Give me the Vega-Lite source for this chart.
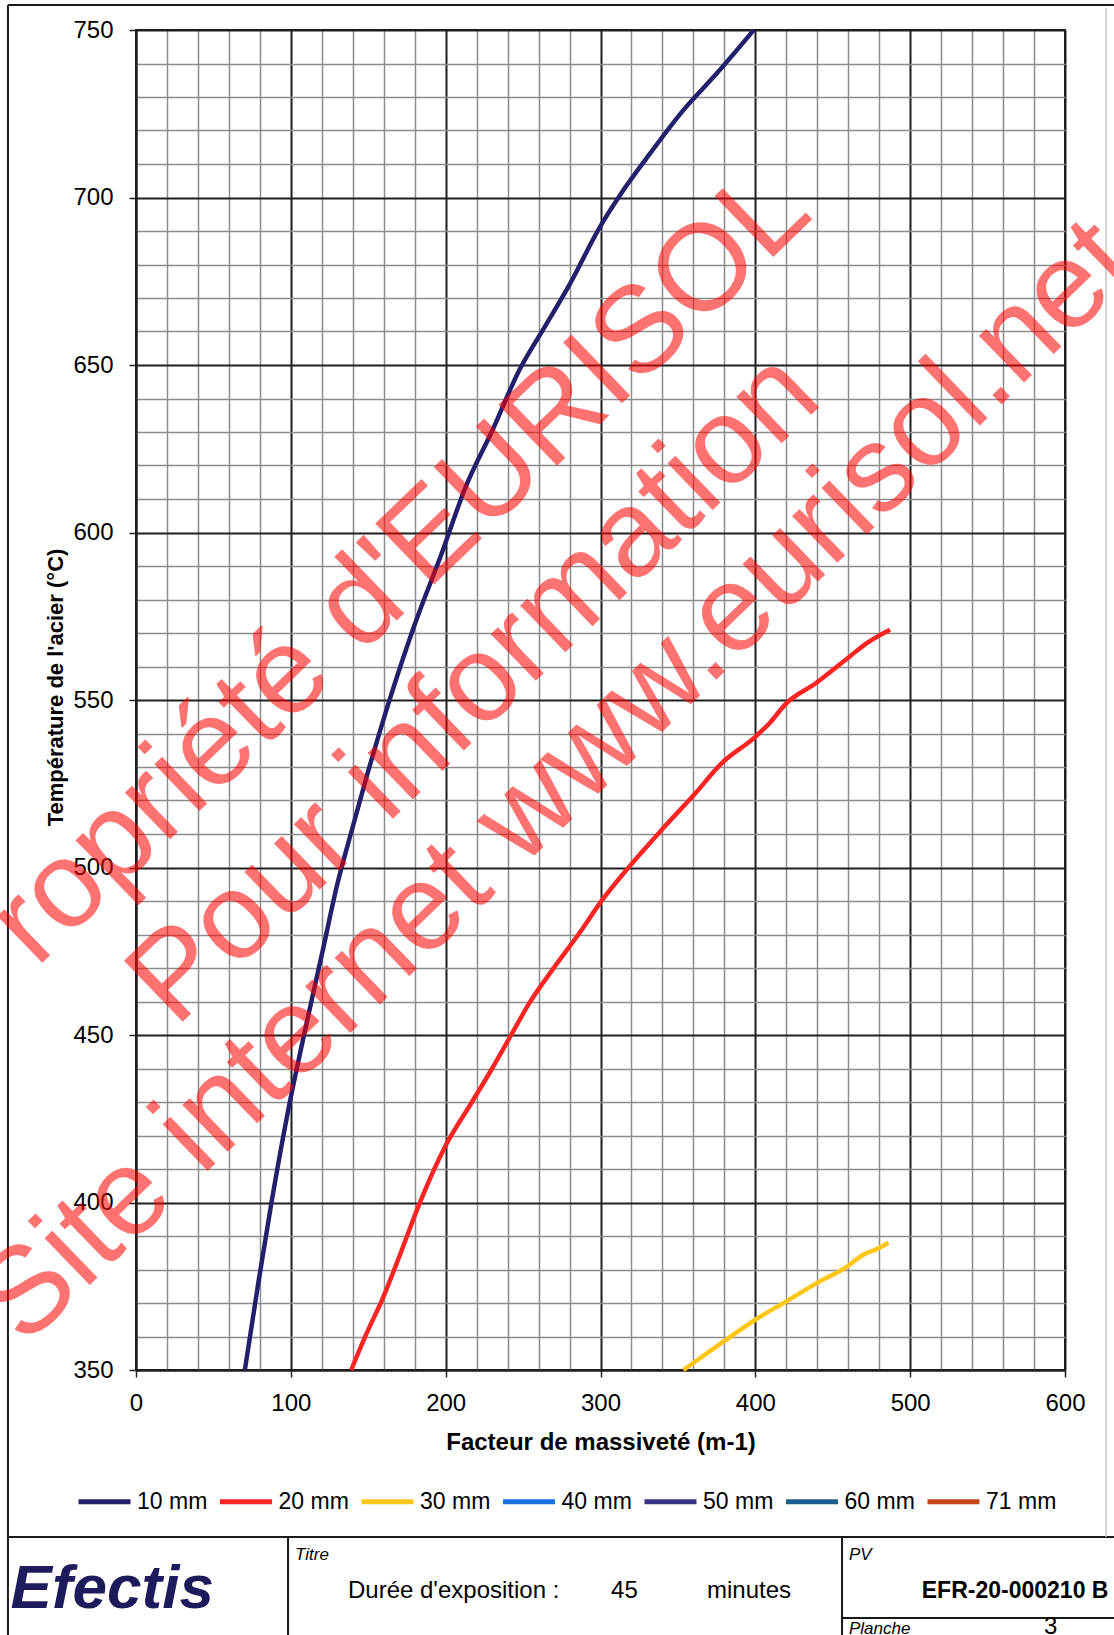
{
  "$schema": "https://vega.github.io/schema/vega-lite/v6.json",
  "width": 929,
  "height": 1340,
  "autosize": "none",
  "padding": {"left": 136, "top": 30, "right": 49, "bottom": 265},
  "background": "#ffffff",
  "config": {
    "font": "Liberation Sans",
    "view": {"stroke": "#1a1a1a", "strokeWidth": 2}
  },
  "datasets": {
    "curves": [
      {"epaisseur": "10 mm", "massivete": 70.3, "temperature": 350},
      {"epaisseur": "10 mm", "massivete": 79, "temperature": 376},
      {"epaisseur": "10 mm", "massivete": 87.5, "temperature": 400},
      {"epaisseur": "10 mm", "massivete": 98.3, "temperature": 427.5},
      {"epaisseur": "10 mm", "massivete": 108.5, "temperature": 450},
      {"epaisseur": "10 mm", "massivete": 120.5, "temperature": 475},
      {"epaisseur": "10 mm", "massivete": 130, "temperature": 495},
      {"epaisseur": "10 mm", "massivete": 138.7, "temperature": 510},
      {"epaisseur": "10 mm", "massivete": 149.5, "temperature": 528},
      {"epaisseur": "10 mm", "massivete": 162.4, "temperature": 548},
      {"epaisseur": "10 mm", "massivete": 179.6, "temperature": 572},
      {"epaisseur": "10 mm", "massivete": 196.8, "temperature": 593},
      {"epaisseur": "10 mm", "massivete": 213, "temperature": 613.7},
      {"epaisseur": "10 mm", "massivete": 230.3, "temperature": 630.6},
      {"epaisseur": "10 mm", "massivete": 247.6, "temperature": 648.5},
      {"epaisseur": "10 mm", "massivete": 262.7, "temperature": 660.4},
      {"epaisseur": "10 mm", "massivete": 280, "temperature": 674},
      {"epaisseur": "10 mm", "massivete": 299.4, "temperature": 691},
      {"epaisseur": "10 mm", "massivete": 314.5, "temperature": 702},
      {"epaisseur": "10 mm", "massivete": 331.8, "temperature": 713},
      {"epaisseur": "10 mm", "massivete": 353.4, "temperature": 726},
      {"epaisseur": "10 mm", "massivete": 375, "temperature": 737},
      {"epaisseur": "10 mm", "massivete": 399, "temperature": 750},
      {"epaisseur": "20 mm", "massivete": 139, "temperature": 350},
      {"epaisseur": "20 mm", "massivete": 149, "temperature": 361},
      {"epaisseur": "20 mm", "massivete": 159, "temperature": 371},
      {"epaisseur": "20 mm", "massivete": 171, "temperature": 385},
      {"epaisseur": "20 mm", "massivete": 182.5, "temperature": 399},
      {"epaisseur": "20 mm", "massivete": 200, "temperature": 417},
      {"epaisseur": "20 mm", "massivete": 217, "temperature": 430},
      {"epaisseur": "20 mm", "massivete": 230, "temperature": 440},
      {"epaisseur": "20 mm", "massivete": 243.5, "temperature": 451},
      {"epaisseur": "20 mm", "massivete": 254, "temperature": 459.5},
      {"epaisseur": "20 mm", "massivete": 269, "temperature": 469.5},
      {"epaisseur": "20 mm", "massivete": 286.5, "temperature": 480.5},
      {"epaisseur": "20 mm", "massivete": 299.5, "temperature": 489.3},
      {"epaisseur": "20 mm", "massivete": 319, "temperature": 500.5},
      {"epaisseur": "20 mm", "massivete": 341, "temperature": 512},
      {"epaisseur": "20 mm", "massivete": 361, "temperature": 522},
      {"epaisseur": "20 mm", "massivete": 378, "temperature": 531},
      {"epaisseur": "20 mm", "massivete": 400, "temperature": 539},
      {"epaisseur": "20 mm", "massivete": 409, "temperature": 543},
      {"epaisseur": "20 mm", "massivete": 420, "temperature": 549},
      {"epaisseur": "20 mm", "massivete": 439, "temperature": 555},
      {"epaisseur": "20 mm", "massivete": 461, "temperature": 563},
      {"epaisseur": "20 mm", "massivete": 472, "temperature": 567},
      {"epaisseur": "20 mm", "massivete": 487, "temperature": 571},
      {"epaisseur": "30 mm", "massivete": 353.5, "temperature": 350},
      {"epaisseur": "30 mm", "massivete": 378, "temperature": 358},
      {"epaisseur": "30 mm", "massivete": 400, "temperature": 365},
      {"epaisseur": "30 mm", "massivete": 420, "temperature": 370.5},
      {"epaisseur": "30 mm", "massivete": 440, "temperature": 376},
      {"epaisseur": "30 mm", "massivete": 458, "temperature": 380.5},
      {"epaisseur": "30 mm", "massivete": 470, "temperature": 384.5},
      {"epaisseur": "30 mm", "massivete": 478, "temperature": 386},
      {"epaisseur": "30 mm", "massivete": 486, "temperature": 388}
    ],
    "frame": [
      {"massivete": -82.7, "temperature": 757.5, "massivete2": -82.7, "temperature2": 269.4},
      {"massivete": -82.7, "temperature": 757.5, "massivete2": 631.7, "temperature2": 757.5},
      {"massivete": -82.7, "temperature": 300.15, "massivete2": 631.7, "temperature2": 300.15},
      {"massivete": 98.2, "temperature": 300.15, "massivete2": 98.2, "temperature2": 269.4},
      {"massivete": 456.0, "temperature": 300.15, "massivete2": 456.0, "temperature2": 269.4},
      {"massivete": 456.0, "temperature": 276.0, "massivete2": 631.7, "temperature2": 276.0}
    ],
    "edge": [
      {"massivete": 626.5, "temperature": 756.5, "massivete2": 626.5, "temperature2": 300.15}
    ],
    "blocktext": [
      {"role": "small", "label": "Titre", "massivete": 102.7, "temperature": 293.3},
      {"role": "small", "label": "PV", "massivete": 460.5, "temperature": 293.3},
      {"role": "small", "label": "Planche", "massivete": 460.5, "temperature": 271.2},
      {"role": "body", "label": "Durée d'exposition :", "massivete": 136.9, "temperature": 281.9},
      {"role": "body", "label": "45", "massivete": 306.8, "temperature": 281.9},
      {"role": "body", "label": "minutes", "massivete": 368.8, "temperature": 281.9},
      {"role": "body", "label": "3", "massivete": 586.4, "temperature": 271.2},
      {"role": "bold", "label": "EFR-20-000210 B", "massivete": 507.5, "temperature": 281.9},
      {"role": "logo", "label": "Efectis", "massivete": -81, "temperature": 279}
    ],
    "watermark": [
      {"label": "ropriété d'EURISOL", "massivete": 170.5, "temperature": 590},
      {"label": "Pour information", "massivete": 218.6, "temperature": 553.4},
      {"label": "Site internet www.eurisol.net", "massivete": 272, "temperature": 525.5}
    ]
  },
  "encoding": {
    "x": {
      "field": "massivete",
      "type": "quantitative",
      "scale": {"domain": [0, 600], "nice": false, "zero": false},
      "axis": {
        "values": [0, 20, 40, 60, 80, 100, 120, 140, 160, 180, 200, 220, 240, 260, 280, 300, 320, 340, 360, 380, 400, 420, 440, 460, 480, 500, 520, 540, 560, 580, 600],
        "grid": true,
        "gridColor": {"condition": {"test": "datum.value % 100 === 0", "value": "#1e1e1e"}, "value": "#8c8c8c"},
        "gridWidth": {"condition": {"test": "datum.value % 100 === 0", "value": 2}, "value": 1.5},
        "tickSize": 7,
        "tickWidth": 1.5,
        "tickColor": "#1e1e1e",
        "tickOpacity": {"condition": {"test": "datum.value % 100 === 0", "value": 1}, "value": 0},
        "labelExpr": "datum.value % 100 === 0 ? datum.label : ''",
        "labelFontSize": 24,
        "labelColor": "#000000",
        "labelPadding": 14,
        "labelFlush": false,
        "labelOverlap": false,
        "domainColor": "#1e1e1e",
        "domainWidth": 2,
        "title": "Facteur de massiveté  (m-1)",
        "titleFontSize": 24,
        "titleFontWeight": "bold",
        "titleColor": "#000000",
        "titlePadding": 15
      }
    },
    "y": {
      "field": "temperature",
      "type": "quantitative",
      "scale": {"domain": [350, 750], "nice": false, "zero": false},
      "axis": {
        "values": [350, 360, 370, 380, 390, 400, 410, 420, 430, 440, 450, 460, 470, 480, 490, 500, 510, 520, 530, 540, 550, 560, 570, 580, 590, 600, 610, 620, 630, 640, 650, 660, 670, 680, 690, 700, 710, 720, 730, 740, 750],
        "grid": true,
        "gridColor": {"condition": {"test": "datum.value % 50 === 0", "value": "#1e1e1e"}, "value": "#8c8c8c"},
        "gridWidth": {"condition": {"test": "datum.value % 50 === 0", "value": 2}, "value": 1.5},
        "tickSize": 7,
        "tickWidth": 1.5,
        "tickColor": "#1e1e1e",
        "tickOpacity": {"condition": {"test": "datum.value % 50 === 0", "value": 1}, "value": 0},
        "labelExpr": "datum.value % 50 === 0 ? datum.label : ''",
        "labelFontSize": 24,
        "labelColor": "#000000",
        "labelPadding": 16,
        "labelFlush": false,
        "labelOverlap": false,
        "domainColor": "#1e1e1e",
        "domainWidth": 2,
        "title": "Température de l'acier (°C)",
        "titleFontSize": 22,
        "titleFontWeight": "bold",
        "titleColor": "#000000",
        "titlePadding": 5,
        "titleY": 657
      }
    }
  },
  "layer": [
    {
      "data": {"name": "curves"},
      "mark": {"type": "line", "strokeWidth": 4.5, "interpolate": "monotone"},
      "encoding": {
        "color": {
          "field": "epaisseur",
          "type": "nominal",
          "scale": {
            "domain": ["10 mm", "20 mm", "30 mm", "40 mm", "50 mm", "60 mm", "71 mm"],
            "range": ["#241f6b", "#ff2424", "#ffc61a", "#1a73e0", "#3a3185", "#1c5c8a", "#c4461c"]
          },
          "legend": {
            "orient": "none",
            "legendX": -60,
            "legendY": 1443,
            "direction": "horizontal",
            "columns": 7,
            "title": null,
            "symbolType": "stroke",
            "symbolSize": 2704,
            "symbolStrokeWidth": 5,
            "symbolOpacity": 1,
            "labelFontSize": 23,
            "labelColor": "#000000",
            "labelOffset": 4,
            "columnPadding": 1.5,
            "padding": 0
          }
        }
      }
    },
    {
      "data": {"name": "frame"},
      "mark": {"type": "rule", "color": "#1a1a1a", "strokeWidth": 2, "clip": false},
      "encoding": {
        "x2": {"field": "massivete2"},
        "y2": {"field": "temperature2"}
      }
    },
    {
      "data": {"name": "edge"},
      "mark": {"type": "rule", "color": "#c4c4c4", "strokeWidth": 1.5, "clip": false},
      "encoding": {
        "x2": {"field": "massivete2"},
        "y2": {"field": "temperature2"}
      }
    },
    {
      "data": {"name": "blocktext"},
      "transform": [{"filter": "datum.role === 'small'"}],
      "mark": {"type": "text", "align": "left", "baseline": "alphabetic", "fontSize": 17, "fontStyle": "italic", "color": "#000000", "clip": false},
      "encoding": {"text": {"field": "label"}}
    },
    {
      "data": {"name": "blocktext"},
      "transform": [{"filter": "datum.role === 'body'"}],
      "mark": {"type": "text", "align": "left", "baseline": "alphabetic", "fontSize": 24, "color": "#000000", "clip": false},
      "encoding": {"text": {"field": "label"}}
    },
    {
      "data": {"name": "blocktext"},
      "transform": [{"filter": "datum.role === 'bold'"}],
      "mark": {"type": "text", "align": "left", "baseline": "alphabetic", "fontSize": 23, "fontWeight": "bold", "color": "#000000", "clip": false},
      "encoding": {"text": {"field": "label"}}
    },
    {
      "data": {"name": "blocktext"},
      "transform": [{"filter": "datum.role === 'logo'"}],
      "mark": {"type": "text", "align": "left", "baseline": "alphabetic", "fontSize": 62, "fontWeight": "bold", "fontStyle": "italic", "color": "#1e1b5c", "clip": false},
      "encoding": {"text": {"field": "label"}}
    },
    {
      "data": {"name": "watermark"},
      "mark": {"type": "text", "align": "center", "baseline": "middle", "angle": -44, "fontSize": 123, "color": "#ff0000", "opacity": 0.55, "clip": false},
      "encoding": {"text": {"field": "label"}}
    }
  ]
}
